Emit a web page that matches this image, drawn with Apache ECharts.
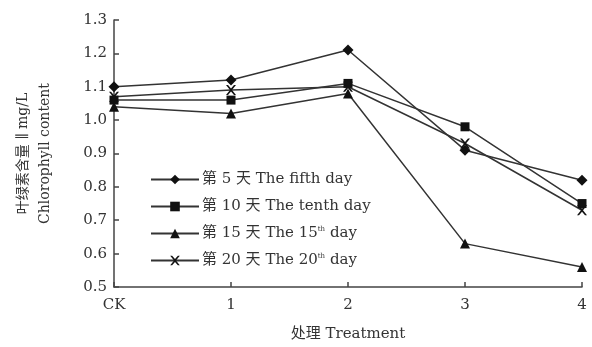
<!DOCTYPE html>
<html><head><meta charset="utf-8">
<script src="https://cdn.jsdelivr.net/npm/echarts@6/dist/echarts.min.js"></script>
<style>html,body{margin:0;padding:0;background:#fff}#c{width:592px;height:347px}</style>
</head><body><div id="c"></div>
<script>
const categories = ['CK', '1', '2', '3', '4'];
const yTicks = [0.5, 0.6, 0.7, 0.8, 0.9, 1.0, 1.1, 1.2, 1.3];
const day5 = [1.10, 1.12, 1.21, 0.91, 0.82];
const day10 = [1.06, 1.06, 1.11, 0.98, 0.75];
const day15 = [1.04, 1.02, 1.08, 0.63, 0.56];
const day20 = [1.07, 1.09, 1.10, 0.93, 0.73];
const seriesNames = ['第 5 天 The fifth day', '第 10 天 The tenth day', '第 15 天 The 15th day', '第 20 天 The 20th day'];

const X = 'path://M0,0 L2,0 L5,3.5 L8,0 L10,0 L6,5 L10,10 L8,10 L5,6.5 L2,10 L0,10 L4,5 Z';
const symbols = ['diamond', 'rect', 'triangle', X];
const sizes = [11, 9, 10, 10];
const data = [day5, day10, day15, day20];
const font = '"Liberation Serif", "DejaVu Serif", "Noto Sans CJK SC", serif';
const wide = '"DejaVu Serif", "Noto Sans CJK SC", serif';

const chart = echarts.init(document.getElementById('c'));
chart.setOption({
  animation: false,
  backgroundColor: '#fff',
  textStyle: { fontFamily: font },
  grid: { left: 114, right: 10, top: 20, bottom: 56 },
  legend: {
    orient: 'vertical', left: 145, top: 167, itemGap: 12,
    itemWidth: 48, itemHeight: 12,
    textStyle: { fontFamily: wide, fontSize: 15, color: '#333', padding: [0, 0, 0, -2],
      rich: { sup: { fontSize: 7, verticalAlign: 'top', padding: [0, 0, 8, 0], color: '#333', fontFamily: wide } } },
    formatter: function (n) {
      return n.replace('15th', '15{sup|th}').replace('20th', '20{sup|th}');
    },
    data: seriesNames
  },
  xAxis: {
    type: 'category', data: categories, boundaryGap: false,
    name: '处理 Treatment', nameLocation: 'middle', nameGap: 40,
    nameTextStyle: { fontSize: 15, color: '#333', fontFamily: wide },
    axisLine: { lineStyle: { color: '#444', width: 1.5 } },
    axisTick: { inside: true, length: 5, lineStyle: { color: '#444', width: 1.5 } },
    axisLabel: { fontSize: 15, color: '#333', margin: 11, fontFamily: wide }
  },
  yAxis: {
    type: 'value', min: 0.5, max: 1.3, interval: 0.1,
    name: '叶绿素含量 ∥ mg/L\nChlorophyll content', nameLocation: 'middle', nameRotate: 90, nameGap: 58,
    nameTextStyle: { fontSize: 14, color: '#333', lineHeight: 22, fontFamily: wide },
    splitLine: { show: false },
    axisLine: { show: true, lineStyle: { color: '#444', width: 1.5 } },
    axisTick: { show: true, inside: true, length: 5, lineStyle: { color: '#444', width: 1.5 } },
    axisLabel: { fontSize: 15, color: '#333', margin: 7, fontFamily: wide,
      formatter: v => (Math.round(v * 10) / 10).toFixed(1) }
  },
  series: seriesNames.map((n, i) => ({
    name: n, type: 'line', data: data[i],
    symbol: symbols[i], symbolSize: sizes[i],
    lineStyle: { color: '#333', width: 1.5 },
    itemStyle: { color: '#111', borderColor: '#111', borderWidth: 0 }
  }))
});
</script></body></html>
